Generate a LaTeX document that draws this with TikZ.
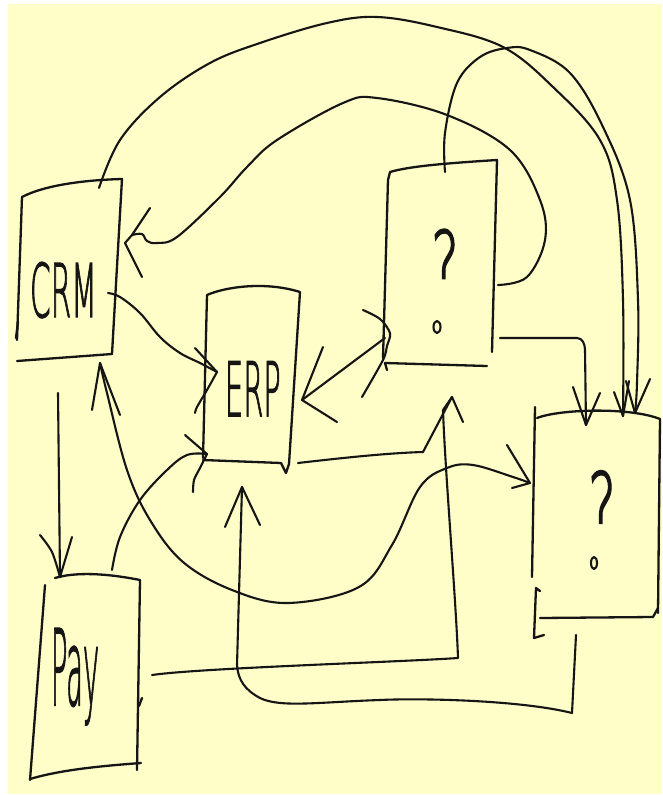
\documentclass[tikz,border=0pt]{standalone}
\usepackage{fontspec}
\IfFontExistsTF{DejaVuSans-ExtraLight.ttf}
  {\newfontfamily\handfont{DejaVuSans-ExtraLight.ttf}[FakeBold=2]\def\handsans{1}}
  {\newfontfamily\handfont{lmmonoproplt10-regular.otf}\def\handsans{0}}
\definecolor{paper}{HTML}{FFFDC8}
\definecolor{ink}{HTML}{151515}
\tikzset{
  pen/.style={draw=ink, line width=2.1pt, line cap=round, line join=round},
  boxpen/.style={draw=ink, line width=2.3pt, line cap=round, line join=round},
  handtext/.style={text=ink, inner sep=0pt, outer sep=0pt},
}
\begin{document}
\begin{tikzpicture}[x=1pt,y=-1pt]
\fill[white] (0,0) rectangle (662,795);
\fill[paper] (8,4) rectangle (662,794);
\useasboundingbox (0,0) rectangle (662,795);

% ---------- named end points ----------
\coordinate (crmT) at (99,188);
\coordinate (crmR) at (108,293);
\coordinate (crmB) at (58,393);
\coordinate (crmIn) at (100,363);
\coordinate (crmRin) at (125,243);
\coordinate (erpL) at (217,372);
\coordinate (erpLB) at (207,454);
\coordinate (erpR) at (302,400);
\coordinate (erpRB) at (298,463);
\coordinate (erpB) at (242,487);
\coordinate (qaT) at (445,172);
\coordinate (qaR) at (498,285);
\coordinate (qaR2) at (500,338);
\coordinate (qaL) at (390,333);
\coordinate (qaB) at (452,397);
\coordinate (qbT1) at (586,425);
\coordinate (qbT2) at (623,416);
\coordinate (qbT3) at (635,413);
\coordinate (qbL) at (530,483);
\coordinate (qbB) at (576,635);
\coordinate (payT) at (60,577);
\coordinate (payT2) at (112,570);
\coordinate (payR) at (152,675);

% ---------- boxes ----------
% CRM
\draw[boxpen] (17,340) -- (22,197) .. controls (45,185) and (85,180) .. (122,179) -- (112,354);
\draw[boxpen] (17,361) -- (112,354);
\draw[boxpen] (18,322) -- (16,338);
% ERP
\draw[boxpen] (203,458) -- (207,295) .. controls (225,287) and (265,281) .. (300,292) -- (289,464);
\draw[boxpen] (203,460) -- (281,463) -- (286,473) -- (289,464);
% ? top
\draw[boxpen] (383,358) -- (388,180) -- (390,172) .. controls (410,166) and (450,163) .. (497,160) -- (492,352);
\draw[boxpen] (487,366) -- (385,363) -- (387,370);
% ? lower right
\draw[boxpen] (532,577) -- (535,407);
\draw[boxpen] (537,418) .. controls (560,409) and (630,407) .. (660,419) -- (658,613);
\draw[boxpen] (540,618) -- (653,617) -- (658,608);
\draw[boxpen] (544,635) -- (534,638) -- (536,588) -- (540,591);
% Pay
\draw[boxpen] (45,585) -- (30,780);
\draw[boxpen] (55,578) .. controls (75,572) and (105,573) .. (140,580) -- (137,770);
\draw[boxpen] (30,779) .. controls (60,770) and (100,766) .. (141,763);
\draw[boxpen] (139,706) -- (142,698);

% ---------- texts ----------
\ifnum\handsans=1
\node[handtext, anchor=base west, xscale=0.40, font=\handfont\fontsize{74}{74}\selectfont] (crm) at (30,317) {CRM};
\node[handtext, anchor=base west, xscale=0.385, font=\handfont\fontsize{75}{75}\selectfont] (erp) at (225,416) {ERP};
\node[handtext, anchor=base west, xscale=0.26, font=\handfont\fontsize{105}{105}\selectfont] (pay) at (51,705) {Pay};
\begin{scope}
\clip (400,200) rectangle (490,279);
\node[handtext, anchor=base, xscale=0.58, font=\handfont\fontsize{90}{90}\selectfont] (qa) at (445,296) {?};
\end{scope}
\begin{scope}
\clip (560,440) rectangle (640,524);
\node[handtext, anchor=base, xscale=0.55, font=\handfont\fontsize{96}{96}\selectfont] (qb) at (602,542) {?};
\end{scope}
\else
\node[handtext, anchor=base west, xscale=0.30, font=\handfont\fontsize{88}{88}\selectfont] (crm) at (30,317) {CRM};
\node[handtext, anchor=base west, xscale=0.32, font=\handfont\fontsize{90}{90}\selectfont] (erp) at (225,416) {ERP};
\node[handtext, anchor=base west, xscale=0.28, font=\handfont\fontsize{110}{110}\selectfont] (pay) at (51,700) {Pay};
\begin{scope}
\clip (400,200) rectangle (490,278);
\node[handtext, anchor=base, xscale=0.6, font=\handfont\fontsize{100}{100}\selectfont] (qa) at (445,291) {?};
\end{scope}
\begin{scope}
\clip (560,440) rectangle (640,524);
\node[handtext, anchor=base, xscale=0.55, font=\handfont\fontsize{107}{107}\selectfont] (qb) at (602,537) {?};
\end{scope}
\fi
\draw[pen] (437,327) ellipse [x radius=3.5, y radius=6];
\draw[pen] (594,563) ellipse [x radius=3, y radius=6];

% ---------- connectors ----------
% A: CRM top -> lower right box
\draw[pen] plot[smooth, tension=0.6] coordinates {(crmT) (120,140) (160,97) (210,63) (260,43) (327,23) (377,17) (437,27) (503,47) (553,87) (600,140) (617,200) (623,300) (qbT2)};
\draw[pen] (614,392) -- (qbT2) -- (629,381);
% B: ? top -> lower right box
\draw[pen] plot[smooth, tension=0.6] coordinates {(qaT) (445,133) (457,83) (480,57) (507,48) (530,50) (570,73) (603,127) (630,200) (638,300) (637,383) (qbT3)};
\draw[pen] (626,381) -- (qbT3) -- (650,379);
% C: ? top -> lower right box
\draw[pen] (qaR2) -- (577,338) to[out=0,in=90] (585,350) -- (qbT1);
\draw[pen] (573,387) -- (qbT1) -- (600,393);
% D: ? top -> CRM
\draw[pen] plot[smooth, tension=0.6] coordinates {(qaR) (527,277) (545,240) (540,200) (510,150) (447,115) (377,98) (343,103) (277,140) (247,167) (220,197) (177,237) (157,243) (147,241) (142,234) (132,235)};
\draw[pen] (150,208) -- (132,235) -- (crmRin) -- (142,277);
% E: CRM -> Pay
\draw[pen] (crmB) -- (payT);
\draw[pen] plot[smooth] coordinates {(40,535) (52,552) (payT)};
\draw[pen] (72,537) -- (payT);
% F: CRM <-> lower right box
\draw[pen] plot[smooth, tension=0.6] coordinates {(crmIn) (107,393) (127,470) (150,520) (183,562) (232,590) (288,603) (359,587) (392,545) (420,487) (447,468) (473,465) (513,477) (qbL)};
\draw[pen] (92,410) -- (crmIn) -- (120,415);
\draw[pen] (507,445) -- (qbL) -- (512,488);
% G: Pay -> ERP
\draw[pen] plot[smooth, tension=0.6] coordinates {(payT2) (120,537) (140,500) (167,470) (187,455) (erpLB)};
\draw[pen] (185,435) -- (erpLB);
\draw[pen] plot[smooth] coordinates {(erpLB) (200,468) (194,480) (193,492)};
% H: ERP -> ? top
\draw[pen] (erpRB) .. controls (350,457) and (390,453) .. (423,452) -- (qaB) -- (463,422);
% I: Pay -> ? top
\draw[pen] (payR) .. controls (200,668) and (400,662) .. (458,658) .. controls (456,600) and (445,470) .. (443,410) -- (qaB);
% J: lower right box -> ERP
\draw[pen] (qbB) -- (572,713) .. controls (520,700) and (420,698) .. (380,700) .. controls (320,702) and (280,708) .. (260,698) .. controls (245,690) and (238,680) .. (237,665) -- (erpB);
\draw[pen] (225,527) -- (erpB) -- (260,525);
% K: CRM -> ERP
\draw[pen] plot[smooth, tension=0.6] coordinates {(crmR) (120,297) (140,313) (160,337) (180,353) (200,363) (erpL)};
\draw[pen] (195,348) -- (erpL);
\draw[pen] plot[smooth] coordinates {(erpL) (207,390) (197,407) (195,413)};
% L: ERP <-> ? top
\draw[pen] (erpR) -- (385,338);
\draw[pen] (323,347) -- (erpR) -- (337,422);
\draw[pen] plot[smooth] coordinates {(363,310) (380,319) (qaL) (387,346) (383,360) (362,397)};
\end{tikzpicture}
\end{document}
